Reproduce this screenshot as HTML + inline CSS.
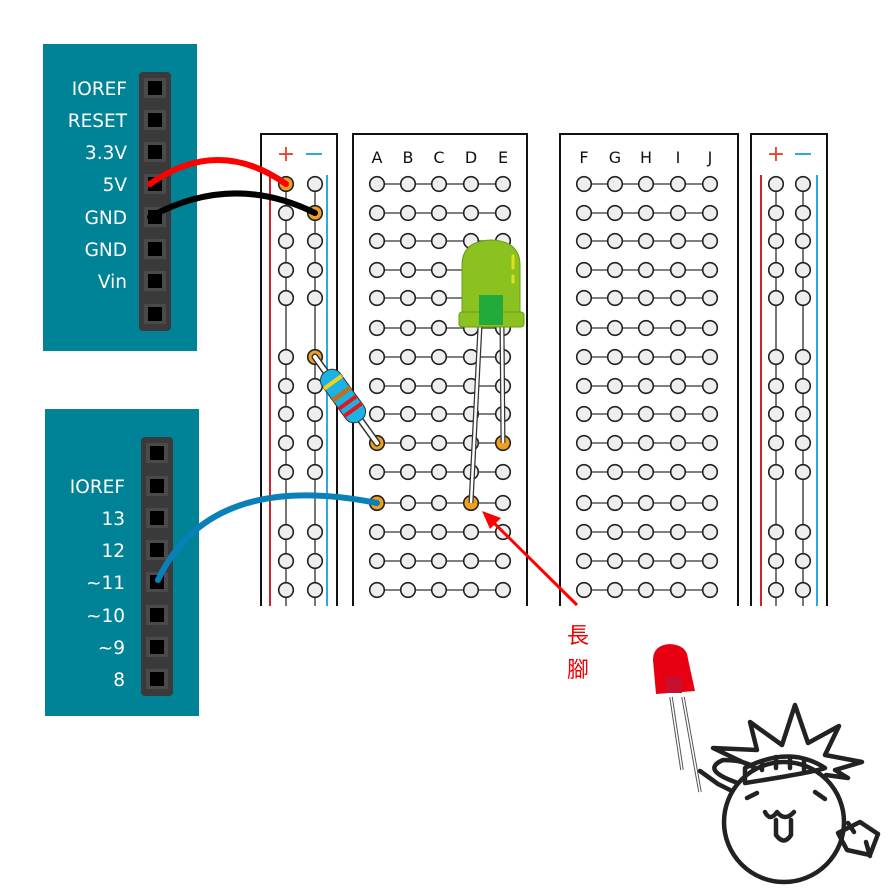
<!DOCTYPE html>
<html><head><meta charset="utf-8"><style>
html,body{margin:0;padding:0;background:#fff;width:895px;height:894px;overflow:hidden}
svg{display:block}
.lbl{font-family:"DejaVu Sans","Liberation Sans",sans-serif;font-size:18.5px;fill:#fff;text-anchor:end}
.col{font-family:"DejaVu Sans","Liberation Sans",sans-serif;font-size:16px;fill:#111;text-anchor:middle}
</style></head><body>
<svg id="s" width="895" height="894" viewBox="0 0 895 894" xmlns="http://www.w3.org/2000/svg">
<rect x="43" y="44" width="154" height="307" fill="#008396"/>
<rect x="139" y="72" width="32" height="259" rx="4" fill="#3a3a3a"/>
<rect x="45" y="409" width="154" height="307" fill="#008396"/>
<rect x="141" y="437" width="32" height="259" rx="4" fill="#3a3a3a"/>
<g id="pins"></g>
<text class="lbl" x="127" y="95">IOREF</text>
<text class="lbl" x="127" y="127">RESET</text>
<text class="lbl" x="127" y="159">3.3V</text>
<text class="lbl" x="127" y="191">5V</text>
<text class="lbl" x="127" y="224">GND</text>
<text class="lbl" x="127" y="256">GND</text>
<text class="lbl" x="127" y="288">Vin</text>
<text class="lbl" x="125" y="493">IOREF</text>
<text class="lbl" x="125" y="525">13</text>
<text class="lbl" x="125" y="557">12</text>
<text class="lbl" x="125" y="589">~11</text>
<text class="lbl" x="125" y="622">~10</text>
<text class="lbl" x="125" y="654">~9</text>
<text class="lbl" x="125" y="686">8</text>
<path d="M261 606 V134 H337 V606" fill="none" stroke="#111" stroke-width="2"/>
<path d="M353 606 V134 H527 V606" fill="none" stroke="#111" stroke-width="2"/>
<path d="M560 606 V134 H738 V606" fill="none" stroke="#111" stroke-width="2"/>
<path d="M751 606 V134 H827 V606" fill="none" stroke="#111" stroke-width="2"/>
<line x1="270" y1="175" x2="270" y2="606" stroke="#d0202a" stroke-width="2"/>
<line x1="327" y1="175" x2="327" y2="606" stroke="#29abe2" stroke-width="2"/>
<line x1="761" y1="175" x2="761" y2="606" stroke="#d0202a" stroke-width="2"/>
<line x1="817" y1="175" x2="817" y2="606" stroke="#29abe2" stroke-width="2"/>
<text x="286" y="161" font-size="22" fill="#e8402a" text-anchor="middle" font-family="DejaVu Sans,sans-serif">+</text>
<line x1="306" y1="154" x2="322" y2="154" stroke="#29abe2" stroke-width="2"/>
<text x="776" y="161" font-size="22" fill="#e8402a" text-anchor="middle" font-family="DejaVu Sans,sans-serif">+</text>
<line x1="795" y1="154" x2="811" y2="154" stroke="#29abe2" stroke-width="2"/>
<text class="col" x="377" y="163">A</text><text class="col" x="408" y="163">B</text><text class="col" x="439" y="163">C</text><text class="col" x="471" y="163">D</text><text class="col" x="503" y="163">E</text>
<text class="col" x="584" y="163">F</text><text class="col" x="615" y="163">G</text><text class="col" x="646" y="163">H</text><text class="col" x="678" y="163">I</text><text class="col" x="710" y="163">J</text>
<g id="holes"></g>
<path d="M150 184 Q218 136 286 184" fill="none" stroke="#f00" stroke-width="6" stroke-linecap="round"/>
<path d="M150 217 Q232 172 315 213" fill="none" stroke="#000" stroke-width="6" stroke-linecap="round"/>
<path d="M158 580 Q210 470 377 503" fill="none" stroke="#0a80b8" stroke-width="6" stroke-linecap="round"/>
<line x1="315" y1="357" x2="377" y2="443" stroke="#333" stroke-width="7" stroke-linecap="round"/>
<line x1="315" y1="357" x2="377" y2="443" stroke="#fff" stroke-width="4" stroke-linecap="round"/>
<g transform="translate(343,396) rotate(54)">
<rect x="-30" y="-11" width="60" height="22" rx="10" fill="#1bb3e6" stroke="#333" stroke-width="1"/>
<rect x="-19" y="-11" width="4" height="22" fill="#f2d21a"/>
<rect x="-5" y="-11" width="5" height="22" fill="#b5732a"/>
<rect x="6" y="-11" width="4" height="22" fill="#e8141a"/>
<rect x="15" y="-11" width="4" height="22" fill="#e8141a"/>
</g>
<path d="M480 326 L471 503" stroke="#333" stroke-width="5"/><path d="M480 326 L471 503" stroke="#fff" stroke-width="2.5"/>
<path d="M502 326 L503 443" stroke="#333" stroke-width="5"/><path d="M502 326 L503 443" stroke="#fff" stroke-width="2.5"/>
<path d="M462 313 V265 Q462 241 491 240 Q520 241 520 265 V313 Z" fill="#8cc21f" stroke="#6a9a18" stroke-width="1"/>
<rect x="459" y="312" width="65" height="15" rx="3" fill="#8cc21f" stroke="#6a9a18" stroke-width="1"/>
<rect x="479" y="295" width="24" height="30" fill="#22aa3a"/>
<path d="M513 256 V268 M513 276 V282" stroke="#e0e020" stroke-width="3" stroke-linecap="round"/>
<line x1="577" y1="605" x2="493" y2="522" stroke="#f00" stroke-width="3"/>
<polygon points="482,511 501,518 490,529" fill="#f00"/>
<text x="578" y="643" font-size="22" fill="#e00" text-anchor="middle" font-family="Noto Sans CJK TC,sans-serif">長</text>
<text x="578" y="677" font-size="22" fill="#e00" text-anchor="middle" font-family="Noto Sans CJK TC,sans-serif">腳</text>
<g stroke="#555" stroke-width="3.5"><line x1="671" y1="697" x2="682" y2="770"/><line x1="683" y1="697" x2="700" y2="792"/></g>
<g stroke="#fff" stroke-width="1.5"><line x1="671" y1="697" x2="682" y2="770"/><line x1="683" y1="697" x2="700" y2="792"/></g>
<path d="M656 694 L653 660 Q653 645 670 644 Q687 645 688 659 L695 691 Z" fill="#e60012"/>
<rect x="666" y="677" width="16" height="16" fill="#c8102e"/>
<g fill="none" stroke="#222" stroke-width="4.5" stroke-linecap="round" stroke-linejoin="round">
<circle cx="784" cy="822" r="60"/>
<path d="M700 771 L718 784 L730 790"/>
<path d="M738 783 Q700 770 723 760 Q745 760 755 768 L713 748 L757 750 L750 722 L782 745 L795 705 L808 743 L839 726 L825 755 L862 762 L835 770 L848 778 L826 775"/>
<path d="M745 768 Q790 745 825 768 Q815 772 745 783 Z"/>
<path d="M762 762 V770 M776 757 V768 M790 757 V768 M804 760 V770"/>
<path d="M747 798 L757 793 M815 792 L825 799"/>
<path d="M765 812 Q770 822 777 812 Q785 822 794 812"/>
<path d="M776 820 V835 Q784 846 791 835 V820"/>
<path d="M838 833 L860 822 L878 834 L870 855 L847 850 Z M848 823 L854 832 M866 842 L870 856"/>
</g>
</svg>
<script>
var NS="http://www.w3.org/2000/svg";
function el(p,t,a){var e=document.createElementNS(NS,t);for(var k in a)e.setAttribute(k,a[k]);p.appendChild(e);return e;}
var pins=document.getElementById("pins");
[88,120,152,184,217,249,281,314].forEach(function(y){el(pins,"rect",{x:144,y:y-10,width:22,height:20,fill:"#4a4a4a"});el(pins,"rect",{x:148,y:y-7,width:14,height:14,fill:"#000"});});
[453,486,518,550,582,615,647,679].forEach(function(y){el(pins,"rect",{x:146,y:y-10,width:22,height:20,fill:"#4a4a4a"});el(pins,"rect",{x:150,y:y-7,width:14,height:14,fill:"#000"});});
var h=document.getElementById("holes");
var rows=[184,213,241,270,298,328,357,386,414,443,472,503,532,561,590];
var rrows=[184,213,241,270,298,357,386,414,443,472,532,561,590];
var orange={"286,184":1,"315,213":1,"315,357":1,"377,443":1,"503,443":1,"377,503":1,"471,503":1};
function hole(x,y){var o=orange[x+","+y];el(h,"circle",{cx:x,cy:y,r:7.3,fill:o?"#f0a020":"#eee",stroke:"#222","stroke-width":1.6});}
[[286,315],[776,803]].forEach(function(c){c.forEach(function(x){el(h,"line",{x1:x,y1:184,x2:x,y2:606,stroke:"#555","stroke-width":1.6});});});
[[377,503],[584,710]].forEach(function(c){rows.forEach(function(y){el(h,"line",{x1:c[0],y1:y,x2:c[1],y2:y,stroke:"#555","stroke-width":1.6});});});
[286,315,776,803].forEach(function(x){rrows.forEach(function(y){hole(x,y);});});
[377,408,439,471,503,584,615,646,678,710].forEach(function(x){rows.forEach(function(y){hole(x,y);});});
</script>
</body></html>
